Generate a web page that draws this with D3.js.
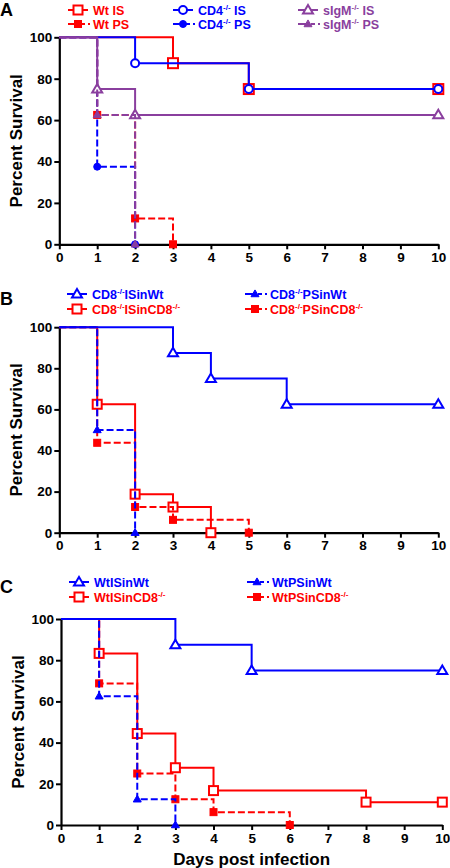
<!DOCTYPE html>
<html><head><meta charset="utf-8">
<script src="https://cdn.jsdelivr.net/npm/d3@7"></script>
<style>
body{margin:0;background:#fff;}
text{font-family:"Liberation Sans",Arial,sans-serif;font-weight:bold;}
</style></head><body>
<svg id="c" width="450" height="868"></svg>
<script>
const dayTicks = [0,1,2,3,4,5,6,7,8,9,10];
const pctTicks = [0,20,40,60,80,100];
const RED = "#ff0000", BLUE = "#0000ff", PURPLE = "#8a3f9e";

// Panel A
const wtIS   = [[0,100],[3,87.5],[5,75],[10,75]];
const wtPS   = [[0,100],[1,62.5],[2,12.5],[3,0]];
const cd4IS  = [[0,100],[2,87.5],[5,75],[10,75]];
const cd4PS  = [[0,100],[1,37.5],[2,0]];
const sigmIS = [[0,100],[1,75],[2,62.5],[10,62.5]];
const sigmPS = [[0,100],[1,62.5],[2,0]];
// Panel B
const cd8ISinWt  = [[0,100],[3,87.5],[4,75],[6,62.5],[10,62.5]];
const cd8ISinCD8 = [[0,100],[1,62.5],[2,18.75],[3,12.5],[4,0]];
const cd8PSinWt  = [[0,100],[1,50],[2,0]];
const cd8PSinCD8 = [[0,100],[1,43.75],[2,12.5],[3,6.25],[5,0]];
// Panel C
const wtISinWt  = [[0,100],[3,87.5],[5,75],[10,75]];
const wtISinCD8 = [[0,100],[1,83.3],[2,44.4],[3,27.8],[4,16.7],[8,11.1],[10,11.1]];
const wtPSinWt  = [[0,100],[1,62.5],[2,12.5],[3,0]];
const wtPSinCD8 = [[0,100],[1,68.75],[2,25],[3,12.5],[4,6.25],[6,0]];

const svg = d3.select("#c");

const panels = [
  {label:"A", lx:0, ly:16, x0:59.3, x1:438.3, yTop:37.3, yBot:244.3,
   series:[
     {data:wtIS, color:RED, dash:false, sym:"square", fill:false, big:true},
     {data:wtPS, color:RED, dash:true, sym:"square", fill:true},
     {data:cd4IS, color:BLUE, dash:false, sym:"circle", fill:false},
     {data:cd4PS, color:BLUE, dash:true, sym:"circle", fill:true},
     {data:sigmIS, color:PURPLE, dash:false, sym:"triangle", fill:false},
     {data:sigmPS, color:PURPLE, dash:true, sym:"triangle", fill:true},
   ],
   legend:[
     {x:68, y:10, color:RED, dash:false, sym:"square", fill:false, name:["Wt IS"]},
     {x:68, y:24, color:RED, dash:true, sym:"square", fill:true, name:["Wt PS"]},
     {x:173, y:10, color:BLUE, dash:false, sym:"circle", fill:false, name:["CD4","-/-"," IS"]},
     {x:173, y:24, color:BLUE, dash:true, sym:"circle", fill:true, name:["CD4","-/-"," PS"]},
     {x:298, y:10, color:PURPLE, dash:false, sym:"triangle", fill:false, name:["sIgM","-/-"," IS"]},
     {x:298, y:24, color:PURPLE, dash:true, sym:"triangle", fill:true, name:["sIgM","-/-"," PS"]},
   ]},
  {label:"B", lx:0, ly:305, x0:59.3, x1:438.3, yTop:327.2, yBot:532.7,
   series:[
     {data:cd8ISinCD8, color:RED, dash:false, sym:"square", fill:false},
     {data:cd8PSinCD8, color:RED, dash:true, sym:"square", fill:true},
     {data:cd8ISinWt, color:BLUE, dash:false, sym:"triangle", fill:false},
     {data:cd8PSinWt, color:BLUE, dash:true, sym:"triangle", fill:true},
   ],
   legend:[
     {x:67, y:294, color:BLUE, dash:false, sym:"triangle", fill:false, name:["CD8","-/-","ISinWt"]},
     {x:67, y:309, color:RED, dash:false, sym:"square", fill:false, name:["CD8","-/-","ISinCD8","-/-"]},
     {x:245, y:294, color:BLUE, dash:true, sym:"triangle", fill:true, name:["CD8","-/-","PSinWt"]},
     {x:245, y:309, color:RED, dash:true, sym:"square", fill:true, name:["CD8","-/-","PSinCD8","-/-"]},
   ]},
  {label:"C", lx:0, ly:593, x0:61, x1:442.3, yTop:619, yBot:825, xTitle:"Days post infection",
   series:[
     {data:wtISinCD8, color:RED, dash:false, sym:"square", fill:false},
     {data:wtPSinCD8, color:RED, dash:true, sym:"square", fill:true},
     {data:wtISinWt, color:BLUE, dash:false, sym:"triangle", fill:false},
     {data:wtPSinWt, color:BLUE, dash:true, sym:"triangle", fill:true},
   ],
   legend:[
     {x:69, y:582, color:BLUE, dash:false, sym:"triangle", fill:false, name:["WtISinWt"]},
     {x:69, y:597, color:RED, dash:false, sym:"square", fill:false, name:["WtISinCD8","-/-"]},
     {x:247, y:582, color:BLUE, dash:true, sym:"triangle", fill:true, name:["WtPSinWt"]},
     {x:247, y:597, color:RED, dash:true, sym:"square", fill:true, name:["WtPSinCD8","-/-"]},
   ]},
];

function marker(g, sym, cx, cy, color, fill, big){
  if(sym==="square"){
    const s = big?10:(fill?7:9);
    g.append("rect").attr("x",cx-s/2).attr("y",cy-s/2).attr("width",s).attr("height",s)
      .attr("fill",fill?color:"#fff").attr("stroke",color).attr("stroke-width",fill?1:2);
  } else if(sym==="circle"){
    g.append("circle").attr("cx",cx).attr("cy",cy).attr("r",fill?3.5:4)
      .attr("fill",fill?color:"#fff").attr("stroke",color).attr("stroke-width",fill?1:2);
  } else {
    const s = fill?8:10;
    const h = s*0.85;
    g.append("path").attr("d",`M${cx},${cy-h*0.6}L${cx+s/2},${cy+h*0.4}L${cx-s/2},${cy+h*0.4}Z`)
      .attr("fill",fill?color:"#fff").attr("stroke",color).attr("stroke-width",fill?1:2)
      .attr("stroke-linejoin","miter");
  }
}

panels.forEach(p=>{
  const x = d3.scaleLinear().domain([0,10]).range([p.x0,p.x1]);
  const y = d3.scaleLinear().domain([0,100]).range([p.yBot,p.yTop]);

  svg.append("text").attr("x",p.lx).attr("y",p.ly).attr("font-size",18).text(p.label);

  // axes (drawn first so marks at 0 sit on top)
  const ya = svg.append("g").attr("transform",`translate(${p.x0},0)`)
    .call(d3.axisLeft(y).tickValues(pctTicks).tickSize(5).tickSizeOuter(0).tickPadding(2));
  const xa = svg.append("g").attr("transform",`translate(0,${p.yBot})`)
    .call(d3.axisBottom(x).tickValues(dayTicks).tickSize(5).tickSizeOuter(0).tickPadding(3));
  [ya,xa].forEach(a=>{
    a.select(".domain").attr("stroke","#000").attr("stroke-width",2.2);
    a.selectAll(".tick line").attr("stroke","#000").attr("stroke-width",2);
    a.selectAll(".tick text").attr("font-size",13.5).attr("fill","#000")
      .attr("font-family","'Liberation Sans',Arial,sans-serif").attr("font-weight","bold");
  });

  const line = d3.line().x(d=>x(d[0])).y(d=>y(d[1])).curve(d3.curveStepAfter);
  p.series.forEach(s=>{
    const g = svg.append("g");
    g.append("path").attr("d",line(s.data)).attr("fill","none").attr("stroke",s.color)
      .attr("stroke-width",2).attr("stroke-dasharray",s.dash?"7,3":null);
    s.data.slice(1).forEach(d=>marker(g,s.sym,x(d[0]),y(d[1]),s.color,s.fill,s.big));
  });

  svg.append("text").attr("transform",`translate(${p.x0-37},${(p.yTop+p.yBot)/2}) rotate(-90)`)
    .attr("text-anchor","middle").attr("font-size",17).text("Percent Survival");
  if(p.xTitle){
    svg.append("text").attr("x",(p.x0+p.x1)/2).attr("y",p.yBot+40).attr("text-anchor","middle")
      .attr("font-size",17).text(p.xTitle);
  }

  // legend
  p.legend.forEach(l=>{
    const g = svg.append("g");
    if(l.dash){
      g.append("line").attr("x1",l.x).attr("x2",l.x+8).attr("y1",l.y).attr("y2",l.y).attr("stroke",l.color).attr("stroke-width",2);
      g.append("line").attr("x1",l.x+13).attr("x2",l.x+17).attr("y1",l.y).attr("y2",l.y).attr("stroke",l.color).attr("stroke-width",2);
      g.append("line").attr("x1",l.x+20).attr("x2",l.x+22).attr("y1",l.y).attr("y2",l.y).attr("stroke",l.color).attr("stroke-width",2);
    } else {
      g.append("line").attr("x1",l.x).attr("x2",l.x+20).attr("y1",l.y).attr("y2",l.y).attr("stroke",l.color).attr("stroke-width",2);
    }
    marker(g,l.sym,l.x+10,l.y,l.color,l.fill,false);
    const t = g.append("text").attr("x",l.x+25).attr("y",l.y+4.5).attr("font-size",12.5).attr("fill",l.color);
    l.name.forEach((part,i)=>{
      if(part==="-/-"){
        t.append("tspan").attr("font-size",8).attr("dy",-5).text(part);
      } else {
        const ts = t.append("tspan").text(part);
        if(i>0 && l.name[i-1]==="-/-") ts.attr("dy",5);
      }
    });
  });
});
</script>
</body></html>
